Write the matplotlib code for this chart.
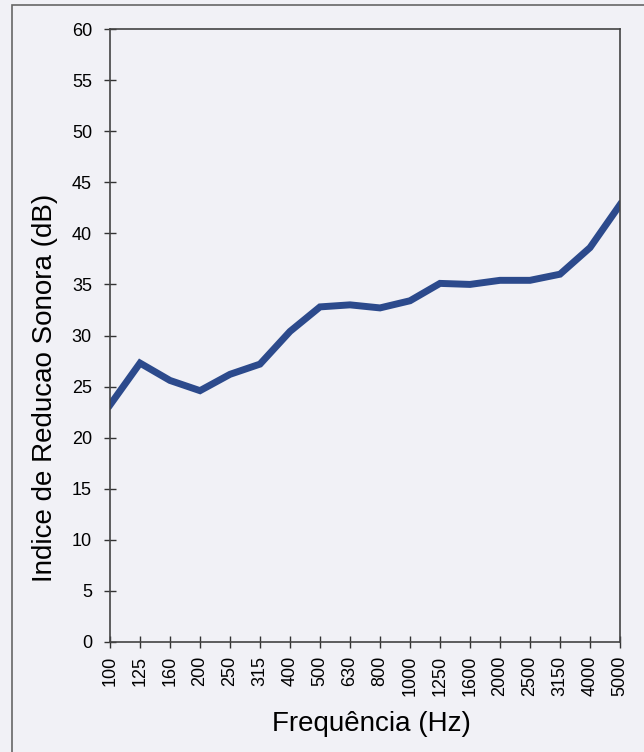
import matplotlib
matplotlib.use("Agg")
import matplotlib.pyplot as plt
from matplotlib.patches import Rectangle

# frequencias (bandas de 1/3 oitava) e indice de reducao sonora
freqs = ["100", "125", "160", "200", "250", "315", "400", "500", "630", "800",
         "1000", "1250", "1600", "2000", "2500", "3150", "4000", "5000"]
r_db = [23.2, 27.3, 25.6, 24.6, 26.2, 27.2, 30.4, 32.8, 33.0, 32.7,
        33.4, 35.1, 35.0, 35.4, 35.4, 36.0, 38.6, 42.8]
yticks = list(range(0, 65, 5))

bg = "#f1f1f6"
fig = plt.figure(figsize=(6.44, 7.52), dpi=100, facecolor=bg)
ax = fig.add_axes([110/644, 1 - 642/752, 510/644, 613/752])
ax.set_facecolor(bg)

x = list(range(len(freqs)))
ax.plot(x, r_db, color="#2c4a8c", lw=5, solid_joinstyle="miter")

ax.set_xlim(0, len(freqs) - 1)
ax.set_ylim(0, 60)
ax.set_xticks(x)
ax.set_xticklabels(freqs, rotation=90, fontsize=13, family="Liberation Sans")
ax.set_yticks(yticks)
ax.set_yticklabels([str(v) for v in yticks], fontsize=13, family="Liberation Sans")
ax.tick_params(direction="inout", length=8, width=1, color="#333333")
ax.tick_params(axis="y", pad=9)
ax.tick_params(axis="x", pad=6)
for s in ax.spines.values():
    s.set_color("#444444")
    s.set_linewidth(1.2)

ax.set_xlabel("Frequência (Hz)", fontsize=20, family="Liberation Sans")
ax.set_ylabel("Indice de Reducao Sonora (dB)", fontsize=20, family="Liberation Sans")
ax.xaxis.set_label_coords(0.512, -0.113)
ax.yaxis.set_label_coords(-0.102, 0.415)

# moldura externa do documento digitalizado
fig.patches.append(Rectangle((12/644, -0.01), 1.0, 1 - 5/752 + 0.01, transform=fig.transFigure,
                             fill=False, edgecolor="#666666", lw=1.2))

fig.savefig("out.png", dpi=100, facecolor=bg)
